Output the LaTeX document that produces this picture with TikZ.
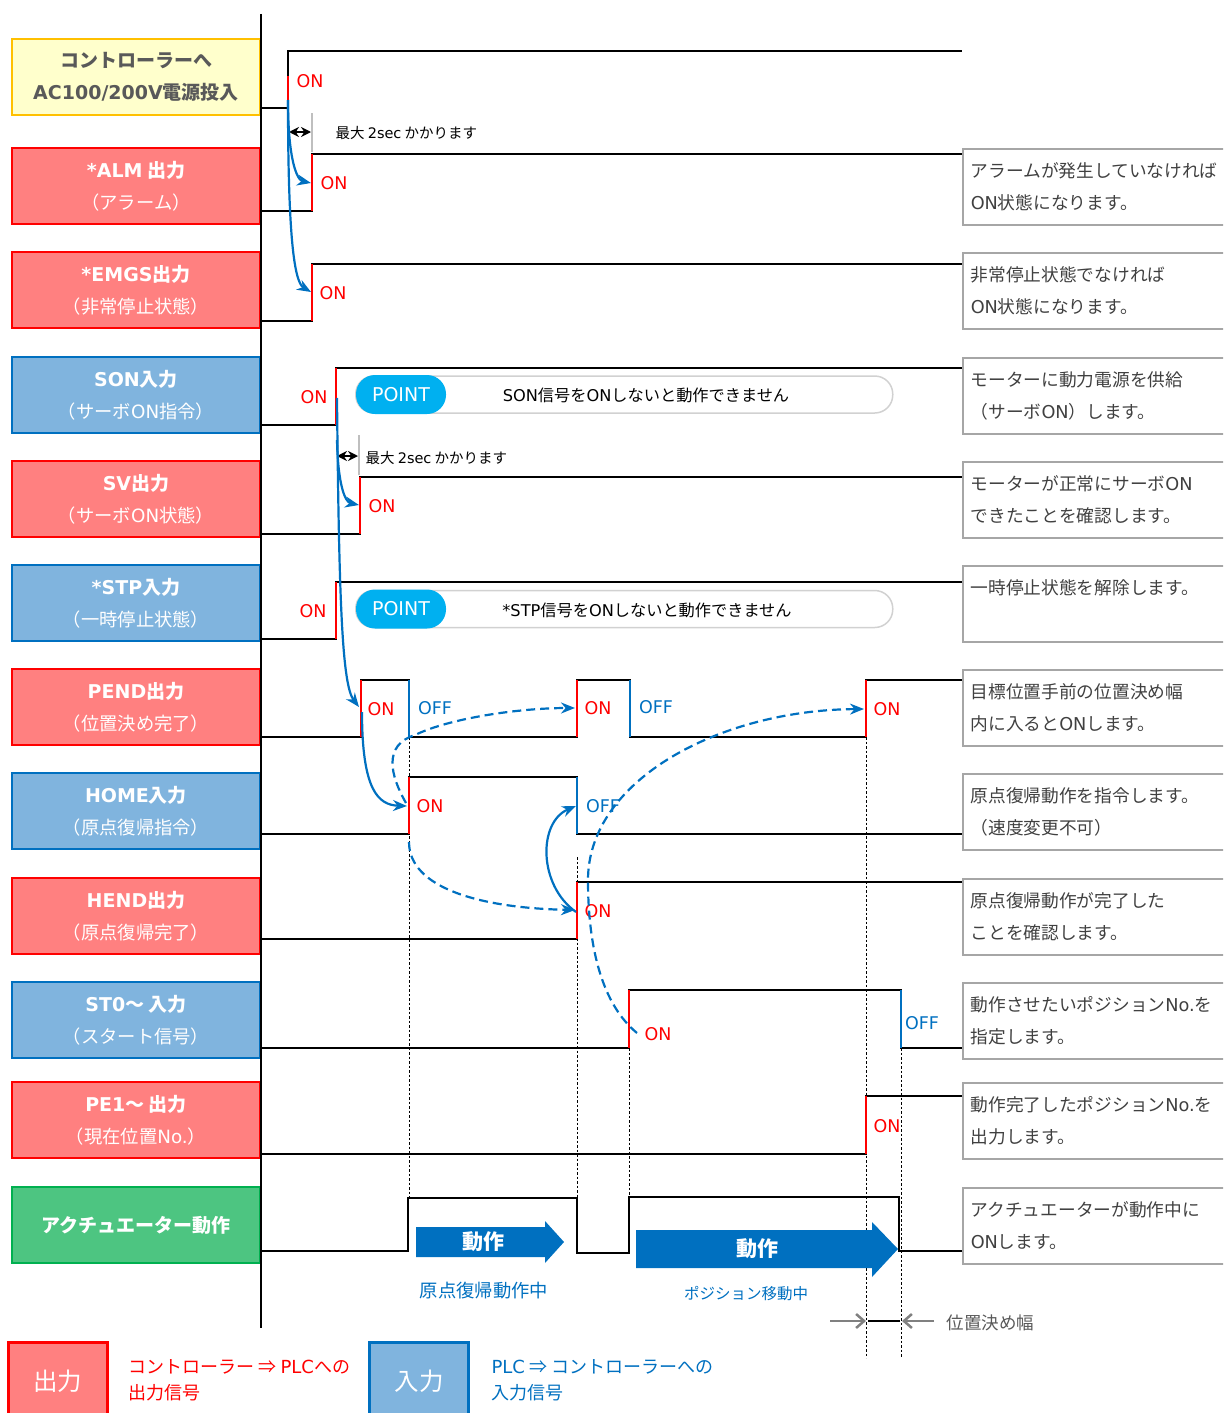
\documentclass[tikz,border=0pt]{standalone}
\usepackage{fontspec}
\setmainfont{Noto Sans CJK JP}
\newfontfamily\latfont{DejaVu Sans}
\usetikzlibrary{arrows.meta, positioning}

\definecolor{outred}{HTML}{FF0000}
\definecolor{outfill}{HTML}{FF8080}
\definecolor{inblue}{HTML}{0070C0}
\definecolor{infill}{HTML}{80B4DE}
\definecolor{actgreen}{HTML}{00B050}
\definecolor{actfill}{HTML}{4DC581}
\definecolor{pwrgold}{HTML}{FFC000}
\definecolor{pwrfill}{HTML}{FFFFCC}
\definecolor{pointblue}{HTML}{00B0F0}
\definecolor{notegray}{HTML}{A6A6A6}
\definecolor{txtgray}{HTML}{404040}

\newcommand{\setfs}[2]{\fontsize{#1}{#2}\selectfont}
\newcommand{\lat}[1]{{\latfont #1}}
\newcommand{\hd}[1]{{\bfseries\setfs{19}{32}#1}}

\tikzset{>={Stealth[length=14pt,width=11pt]},
sig/.style={draw, line width=2.5pt, minimum width=248pt, minimum height=76pt, align=center, text=white, font=\setfs{18.3}{32}},
outsig/.style={sig, draw=outred, fill=outfill},
insig/.style={sig, draw=inblue, fill=infill},
note/.style={draw=notegray, line width=1.5pt, anchor=north west, minimum height=76pt, text width=290pt, inner xsep=8pt, align=left, text=txtgray, font=\setfs{17.7}{32}},
wave/.style={line width=2pt, black},
onedge/.style={line width=2pt, outred},
offedge/.style={line width=2pt, inblue},
onlbl/.style={text=outred, font=\setfs{17.5}{17.5}\latfont},
offlbl/.style={text=inblue, font=\setfs{17.5}{17.5}\latfont},
flow/.style={line width=2.2pt, inblue},
fdash/.style={dash pattern=on 9pt off 5pt},
guide/.style={line width=0.8pt, dash pattern=on 2.5pt off 2pt},
pointbox/.style={draw=black!18, line width=1.5pt, rounded corners=18pt, minimum width=537pt, minimum height=37pt},
pointtag/.style={fill=pointblue, rounded corners=19pt, minimum width=90pt, minimum height=39pt, text=white, font=\setfs{19}{19}\latfont},
legend/.style={draw, line width=3pt, minimum width=99pt, minimum height=78pt, text=white, font=\setfs{24.5}{24.5}},
}

\begin{document}
\begin{tikzpicture}[x=1pt, y=-1pt]
\useasboundingbox (0,0) rectangle (1223,1413);
\clip (0,0) rectangle (1223,1413);

% signal names
\node[sig, draw=pwrgold, fill=pwrfill, text=black!65] (pwr) at (136,77) {\hd{コントローラーへ}\\\hd{\lat{AC100/200V}電源投入}};
\node[outsig] (alm) at (136,186) {\hd{\lat{*ALM} 出力}\\（アラーム）};
\node[outsig] (emg) at (136,290) {\hd{\lat{*EMGS}出力}\\（非常停止状態）};
\node[insig] (son) at (136,395) {\hd{\lat{SON}入力}\\（サーボ\lat{ON}指令）};
\node[outsig] (sv) at (136,499) {\hd{\lat{SV}出力}\\（サーボ\lat{ON}状態）};
\node[insig] (stp) at (136,603) {\hd{\lat{*STP}入力}\\（一時停止状態）};
\node[outsig] (pend) at (136,707) {\hd{\lat{PEND}出力}\\（位置決め完了）};
\node[insig] (home) at (136,811) {\hd{\lat{HOME}入力}\\（原点復帰指令）};
\node[outsig] (hend) at (136,916) {\hd{\lat{HEND}出力}\\（原点復帰完了）};
\node[insig] (st0) at (136,1020) {\hd{\lat{ST0}～ 入力}\\（スタート信号）};
\node[outsig] (pe1) at (136,1120) {\hd{\lat{PE1}～ 出力}\\（現在位置\lat{No.}）};
\node[sig, draw=actgreen, fill=actfill] (act) at (136,1225) {\hd{アクチュエーター動作}};

% notes on the right
\node[note] (almnote) at (962,148) {アラームが発生していなければ\\\lat{ON}状態になります。};
\node[note] (emgnote) at (962,252) {非常停止状態でなければ\\\lat{ON}状態になります。};
\node[note] (sonnote) at (962,357) {モーターに動力電源を供給\\（サーボ\lat{ON}）します。};
\node[note] (svnote) at (962,461) {モーターが正常にサーボ\lat{ON}\\できたことを確認します。};
\node[note] (stpnote) at (962,565) {一時停止状態を解除します。\\\phantom{あ}};
\node[note] (pendnote) at (962,669) {目標位置手前の位置決め幅\\内に入ると\lat{ON}します。};
\node[note] (homenote) at (962,773) {原点復帰動作を指令します。\\（速度変更不可）};
\node[note] (hendnote) at (962,878) {原点復帰動作が完了した\\ことを確認します。};
\node[note] (st0note) at (962,982) {動作させたいポジション\lat{No.}を\\指定します。};
\node[note] (pe1note) at (962,1082) {動作完了したポジション\lat{No.}を\\出力します。};
\node[note] (actnote) at (962,1187) {アクチュエーターが動作中に\\\lat{ON}します。};

% time axis
\draw[line width=2.5pt] (261,14) -- (261,1328);

% guide lines
\draw[guide] (409,737) -- (409,1198);
\draw[guide] (577,857) -- (577,1198);
\draw[guide] (629,1048) -- (629,1197);
\draw[guide] (866,737) -- (866,1358);
\draw[guide] (901,1048) -- (901,1358);

% waveforms
\draw[wave] (261,108) -- (288,108) -- (288,51) -- (962,51);
\draw[onedge] (288,108) -- (288,76);
\draw[wave] (261,211) -- (312,211) -- (312,154) -- (962,154);
\draw[onedge] (312,211) -- (312,154);
\draw[wave] (261,321) -- (312,321) -- (312,264) -- (962,264);
\draw[onedge] (312,321) -- (312,264);
\draw[wave] (261,425) -- (336,425) -- (336,368) -- (962,368);
\draw[onedge] (336,425) -- (336,368);
\draw[wave] (261,534) -- (360,534) -- (360,477) -- (962,477);
\draw[onedge] (360,534) -- (360,477);
\draw[wave] (261,639) -- (336,639) -- (336,582) -- (962,582);
\draw[onedge] (336,639) -- (336,582);
\draw[wave] (261,737) -- (361,737) -- (361,680) -- (409,680) -- (409,737) -- (577,737) -- (577,680) -- (630,680) -- (630,737) -- (866,737) -- (866,680) -- (962,680);
\draw[onedge] (361,737) -- (361,680);
\draw[offedge] (409,680) -- (409,737);
\draw[onedge] (577,737) -- (577,680);
\draw[offedge] (630,680) -- (630,737);
\draw[onedge] (866,737) -- (866,680);
\draw[wave] (261,834) -- (409,834) -- (409,777) -- (577,777) -- (577,834) -- (962,834);
\draw[onedge] (409,834) -- (409,777);
\draw[offedge] (577,777) -- (577,834);
\draw[wave] (261,939) -- (577,939) -- (577,882) -- (962,882);
\draw[onedge] (577,939) -- (577,882);
\draw[wave] (261,1048) -- (629,1048) -- (629,990) -- (901,990) -- (901,1048) -- (962,1048);
\draw[onedge] (629,1048) -- (629,990);
\draw[offedge] (901,990) -- (901,1048);
\draw[wave] (261,1154) -- (866,1154) -- (866,1096) -- (962,1096);
\draw[onedge] (866,1154) -- (866,1096);
\draw[wave] (261,1251) -- (408,1251) -- (408,1198) -- (577,1198) -- (577,1253) -- (629,1253) -- (629,1197) -- (899,1197) -- (899,1251) -- (962,1251);

% ON / OFF labels
\node[onlbl] (pwron) at (310,81) {ON};
\node[onlbl] (almon) at (334,183) {ON};
\node[onlbl] (emgon) at (333,293) {ON};
\node[onlbl] (sonon) at (314,397) {ON};
\node[onlbl] (svon) at (382,506) {ON};
\node[onlbl] (stpon) at (313,611) {ON};
\node[onlbl] (pendon1) at (381,709) {ON};
\node[offlbl] (pendoff1) at (435,708) {OFF};
\node[onlbl] (pendon2) at (598,708) {ON};
\node[offlbl] (pendoff2) at (656,707) {OFF};
\node[onlbl] (pendon3) at (887,709) {ON};
\node[onlbl] (homeon) at (430,806) {ON};
\node[offlbl] (homeoff) at (603,806) {OFF};
\node[onlbl] (hendon) at (598,911) {ON};
\node[onlbl] (st0on) at (658,1034) {ON};
\node[offlbl] (st0off) at (922,1023) {OFF};
\node[onlbl] (pe1on) at (887,1126) {ON};

% max 2 sec delays
\draw[black!25, line width=1.5pt] (312,113) -- (312,152);
\draw[<->, line width=2pt, >={Stealth[length=10pt,width=10pt]}] (289,132) -- (311,132);
\node[anchor=west, font=\setfs{14.5}{14.5}] (wait1) at (332,133) {最大 \lat{2sec} かかります};
\draw[black!25, line width=1.5pt] (359,435) -- (359,475);
\draw[<->, line width=2pt, >={Stealth[length=10pt,width=10pt]}] (337,456) -- (358,456);
\node[anchor=west, font=\setfs{14.5}{14.5}] (wait2) at (362,458) {最大 \lat{2sec} かかります};

% POINT notes
\node[pointbox, anchor=west] (sonpoint) at (355,394.5) {};
\node[pointtag] (sontag) at (401,394.5) {POINT};
\node[font=\setfs{16.2}{16.2}] (sontext) at (646,395) {\lat{SON}信号を\lat{ON}しないと動作できません};
\node[pointbox, anchor=west] (stppoint) at (355,609) {};
\node[pointtag] (stptag) at (401,609) {POINT};
\node[font=\setfs{16.2}{16.2}] (stptext) at (647,610) {\lat{*STP}信号を\lat{ON}しないと動作できません};

% sequence arrows
\draw[flow, ->] (288,100) .. controls (288,160) and (297,180) .. (311,183);
\draw[flow, ->] (288,100) .. controls (288,235) and (294,282) .. (311,292);
\draw[flow, ->] (337,398) .. controls (339,600) and (342,685) .. (359,707);
\draw[flow, ->] (337,440) .. controls (338,485) and (345,502) .. (359,505);
\draw[flow, ->] (362,712) .. controls (362,790) and (378,805) .. (407,806);
\draw[flow, ->] (576,912) .. controls (538,885) and (538,822) .. (576,806);
\draw[flow, fdash, ->] (406,803) .. controls (390,775) and (383,745) .. (415,735) .. controls (450,718) and (520,708) .. (575,708);
\draw[flow, fdash, ->] (409,842) .. controls (409,888) and (480,908) .. (575,910);
\draw[flow, fdash, ->] (637,1033) .. controls (603,1005) and (588,950) .. (588,880) .. controls (588,780) and (720,710) .. (864,709);

% motion
\fill[inblue] (416,1227) -- (545,1227) -- (545,1221) -- (564,1242) -- (545,1263) -- (545,1257) -- (416,1257) -- cycle;
\node[text=white, font=\setfs{21}{21}\bfseries] (move1) at (483,1242) {動作};
\fill[inblue] (636,1230) -- (872,1230) -- (872,1222) -- (898,1249) -- (872,1277) -- (872,1268) -- (636,1268) -- cycle;
\node[text=white, font=\setfs{21}{21}\bfseries] (move2) at (757,1249) {動作};
\node[text=inblue, font=\setfs{18.3}{18.3}] (homing) at (484,1291) {原点復帰動作中};
\node[text=inblue, font=\setfs{15.5}{15.5}] (moving) at (746,1294) {ポジション移動中};

% in-position width
\draw[line width=2pt] (868,1321) -- (900,1321);
\draw[black!50, line width=2.5pt, -{Straight Barb[length=8pt,width=14pt]}] (830,1321) -- (866,1321);
\draw[black!50, line width=2.5pt, -{Straight Barb[length=8pt,width=14pt]}] (934,1321) -- (902,1321);
\node[anchor=west, text=black!65, font=\setfs{17.5}{17.5}] (inpos) at (943,1323) {位置決め幅};

% legend
\node[legend, draw=outred, fill=outfill] (outkey) at (57.5,1381) {出力};
\node[anchor=west, align=left, text=outred, font=\setfs{18}{26}] (outdesc) at (125,1380) {コントローラー ⇒ \lat{PLC}への\\出力信号};
\node[legend, draw=inblue, fill=infill] (inkey) at (419,1381) {入力};
\node[anchor=west, align=left, text=inblue, font=\setfs{18}{26}] (indesc) at (488,1380) {\lat{PLC} ⇒ コントローラーへの\\入力信号};
\end{tikzpicture}
\end{document}
